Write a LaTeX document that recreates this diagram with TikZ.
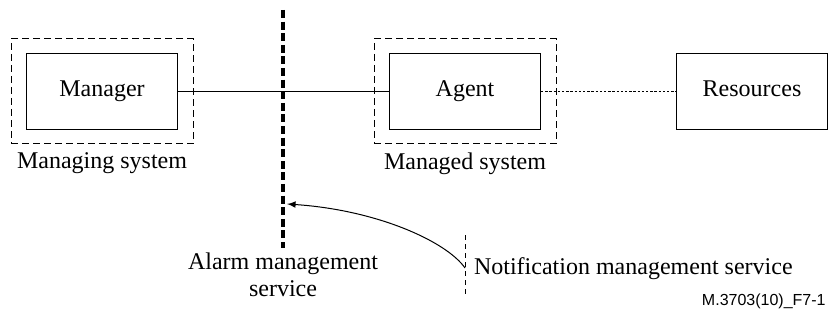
\documentclass[tikz,border=0pt]{standalone}
\usepackage{fontspec}
\setmainfont{Liberation Serif}
\newfontfamily\figfont{Liberation Sans}
\usepackage{tikz}
\usetikzlibrary{arrows,calc,positioning}
\tikzset{%
	block/.style    = {draw, rectangle, line width=0.5pt, minimum width=75.5pt, minimum height=38pt, text height=1.6ex, text depth=0.45ex}, % Entity
	system/.style   = {draw, rectangle, line width=0.5pt, dash pattern=on 3.5pt off 2pt, minimum width=91pt, minimum height=52.5pt}, % System frame
	caption/.style  = {rectangle, align=center}, % Label
	boundary/.style = {line width=2pt, dash pattern=on 4pt off 1.8pt}, % Service boundary
	notifline/.style= {line width=0.5pt, dash pattern=on 2.5pt off 2pt},
	waypoint/.style = {coordinate},
}

\begin{document}
\begin{tikzpicture}[x=0.5pt,y=-0.5pt,node distance=181.5pt,>=latex,font=\fontsize{12pt}{13.5pt}\selectfont]
	\useasboundingbox (0,0) rectangle (828,320);

	\node [block] (mgr) at (102,91.5) {Manager};
	\node [block] (agent) [right of=mgr] {Agent};
	\node [block] (res) [right of=agent,node distance=143.5pt] {Resources};
	\node [system] (mgrsys) at (mgr) {};
	\node [system] (agentsys) at (agent) {};
	\node [caption] (mgrlbl) [below of=mgr,node distance=36pt] {Managing system};
	\node [caption] (agentlbl) [below of=agent,node distance=36pt] {Managed system};

	\draw (mgr) -- (agent);
	\draw [line width=0.9pt,dash pattern=on 1.2pt off 0.9pt] (agent) -- (res);

	% alarm management service boundary
	\node [waypoint] (alarmtop) at (283,10) {};
	\node [waypoint] (alarmbot) at (283,248) {};
	\node [waypoint] (alarmin) at (287,204) {};
	\draw [boundary] (alarmtop) -- (alarmbot);
	\node [caption] (alarm) at (283,275) {Alarm management\\service};

	% notification management service
	\node [waypoint] (notiftop) at (465,235) {};
	\node [waypoint] (notifbot) at (465,297) {};
	\node [waypoint] (notifout) at (465,268) {};
	\draw [notifline] (notiftop) -- (notifbot);
	\node [caption,anchor=west] (notif) at (467,269) {Notification management service};

	\draw [->,line width=0.5pt] (notifout) .. controls (447,242) and (378,210) .. (alarmin);

	\node [anchor=east,inner sep=0pt,font=\figfont\fontsize{8pt}{9pt}\selectfont] (figid) at (826,301) {M.3703(10)\_F7-1};
\end{tikzpicture}
\end{document}
